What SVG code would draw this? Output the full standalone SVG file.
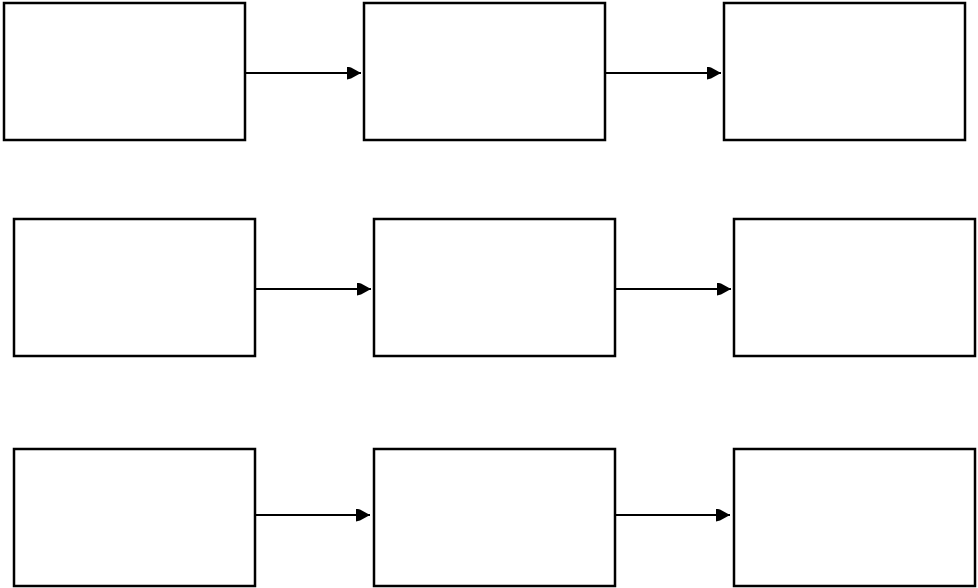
<svg xmlns="http://www.w3.org/2000/svg" width="978" height="588" viewBox="0 0 978 588">
<style>
.box{fill:#fff;stroke:#000;stroke-width:2.5}
.edge{fill:none;stroke:#000;stroke-width:2}
</style>
<defs>
<marker id="ah" markerWidth="16" markerHeight="14" refX="14" refY="6.5" orient="auto" markerUnits="userSpaceOnUse">
<path d="M0,0 L4,1 L14,6.5 L4,12 L0,13 Z" fill="#000"/>
</marker>
</defs>
<rect width="978" height="588" fill="#fff"/>
<g id="n1"><rect class="box" x="4" y="3" width="241" height="137"/></g>
<g id="n2"><rect class="box" x="364" y="3" width="241" height="137"/></g>
<g id="n3"><rect class="box" x="724" y="3" width="241" height="137"/></g>
<g id="n4"><rect class="box" x="14" y="219" width="241" height="137"/></g>
<g id="n5"><rect class="box" x="374" y="219" width="241" height="137"/></g>
<g id="n6"><rect class="box" x="734" y="219" width="241" height="137"/></g>
<g id="n7"><rect class="box" x="14" y="449" width="241" height="137"/></g>
<g id="n8"><rect class="box" x="374" y="449" width="241" height="137"/></g>
<g id="n9"><rect class="box" x="734" y="449" width="241" height="137"/></g>
<g id="connectors">
<line class="edge" x1="245" y1="73" x2="361" y2="73" marker-end="url(#ah)"/>
<line class="edge" x1="605" y1="73" x2="721" y2="73" marker-end="url(#ah)"/>
<line class="edge" x1="255" y1="289" x2="371" y2="289" marker-end="url(#ah)"/>
<line class="edge" x1="615" y1="289" x2="731" y2="289" marker-end="url(#ah)"/>
<line class="edge" x1="255" y1="515" x2="370" y2="515" marker-end="url(#ah)"/>
<line class="edge" x1="615" y1="515" x2="730" y2="515" marker-end="url(#ah)"/>
</g>
</svg>
